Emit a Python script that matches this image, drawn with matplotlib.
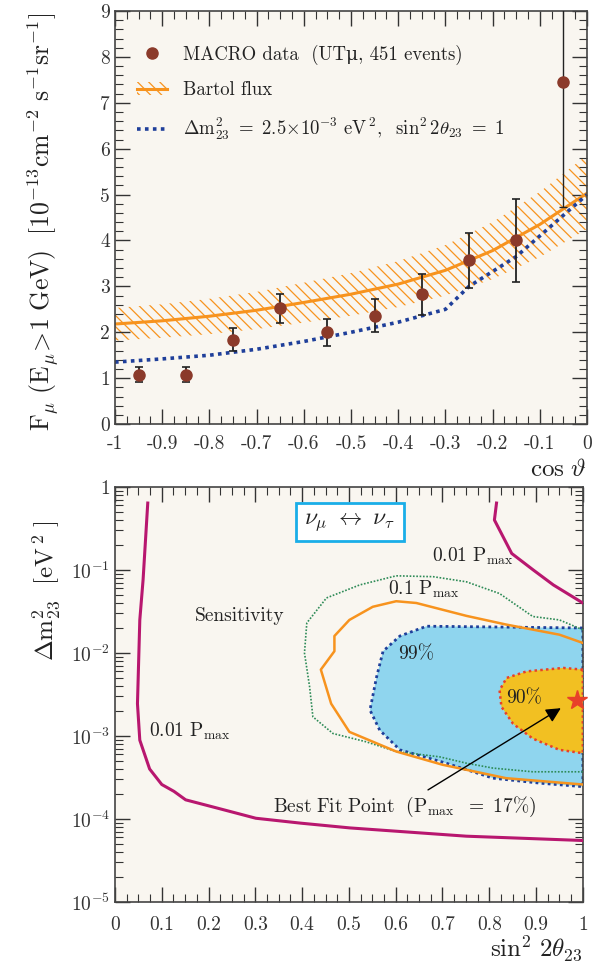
import numpy as np
import matplotlib
matplotlib.use("Agg")
import matplotlib.pyplot as plt
from matplotlib.lines import Line2D
from matplotlib.patches import Patch
from matplotlib.ticker import MultipleLocator, LogLocator, NullFormatter, FuncFormatter

plt.rcParams['font.family'] = ['cmr10', 'DejaVu Serif']
plt.rcParams['mathtext.fontset'] = 'cm'
plt.rcParams['axes.unicode_minus'] = False
plt.rcParams['axes.formatter.use_mathtext'] = True
plt.rcParams['hatch.linewidth'] = 0.9

# ---------------- data: top panel ----------------
cos_data = [-0.95, -0.85, -0.75, -0.65, -0.55, -0.45, -0.35, -0.25, -0.15, -0.05]
flux_data = [1.08, 1.08, 1.84, 2.52, 2.00, 2.36, 2.83, 3.57, 4.00, 7.45]
flux_err = [0.16, 0.17, 0.25, 0.32, 0.30, 0.36, 0.45, 0.60, 0.90, 2.72]

cos_model = [-1.0, -0.9, -0.8, -0.7, -0.6, -0.5, -0.4, -0.3, -0.2, -0.1, 0.0]
bartol = [2.18, 2.25, 2.35, 2.48, 2.65, 2.83, 3.05, 3.35, 3.78, 4.35, 5.03]
bartol_lo = [1.82, 1.88, 1.96, 2.07, 2.21, 2.36, 2.55, 2.80, 3.16, 3.64, 4.25]
bartol_hi = [2.53, 2.61, 2.73, 2.88, 3.08, 3.29, 3.55, 3.90, 4.40, 5.06, 5.86]
osc = [1.35, 1.42, 1.50, 1.63, 1.80, 2.00, 2.22, 2.50, 3.00, 3.65, 4.55, 5.00]
cos_osc = [-1.0, -0.9, -0.8, -0.7, -0.6, -0.5, -0.4, -0.3, -0.25, -0.15, -0.05, 0.0]

# ---------------- data: bottom panel ----------------
pmax_left_x = [0.070, 0.060, 0.053, 0.048, 0.053, 0.074, 0.100, 0.126, 0.151, 0.219, 0.301, 0.397, 0.502, 0.751, 1.0]
pmax_left_y = [0.64, 7.6e-2, 2.5e-2, 2.45e-3, 8.9e-4, 4.0e-4, 2.6e-4, 2.15e-4, 1.7e-4, 1.35e-4, 1.02e-4, 8.9e-5, 7.8e-5, 6.2e-5, 5.5e-5]
pmax_right_x = [0.8155, 0.811, 0.848, 0.894, 0.937, 1.0]
pmax_right_y = [0.64, 0.40, 0.158, 0.10, 0.066, 0.040]

sens_x = [1.0, 0.95, 0.893, 0.822, 0.751, 0.68, 0.601, 0.523, 0.452, 0.41, 0.405, 0.416, 0.423, 0.466, 0.537, 0.601, 0.694, 0.751, 0.808, 0.893, 1.0]
sens_y = [1.9e-2, 2.5e-2, 2.75e-2, 5.2e-2, 7.2e-2, 8.3e-2, 8.5e-2, 6.6e-2, 4.6e-2, 2.3e-2, 1.0e-2, 3.9e-3, 1.7e-3, 1.07e-3, 8.5e-4, 6.5e-4, 5.6e-4, 4.7e-4, 4.1e-4, 3.7e-4, 3.7e-4]

p01_x = [1.0, 0.95, 0.836, 0.751, 0.644, 0.601, 0.551, 0.501, 0.469, 0.469, 0.44, 0.462, 0.501, 0.601, 0.70, 0.836, 1.0]
p01_y = [1.32e-2, 1.66e-2, 2.2e-2, 2.8e-2, 4.0e-2, 4.2e-2, 3.6e-2, 2.5e-2, 1.6e-2, 1.05e-2, 6.3e-3, 2.45e-3, 1.12e-3, 6.5e-4, 4.5e-4, 3.1e-4, 2.6e-4]

c99_x = [1.0, 0.666, 0.609, 0.573, 0.559, 0.545, 0.566, 0.609, 0.708, 0.808, 0.908, 1.0]
c99_y = [2.0e-2, 2.1e-2, 1.6e-2, 1.05e-2, 5.1e-3, 2.05e-3, 1.17e-3, 6.8e-4, 4.7e-4, 3.1e-4, 2.7e-4, 2.45e-4]

c90_x = [1.0, 0.958, 0.88, 0.837, 0.822, 0.826, 0.851, 0.893, 0.95, 1.0]
c90_y = [6.3e-3, 6.6e-3, 6.0e-3, 5.0e-3, 3.55e-3, 2.25e-3, 1.4e-3, 9.3e-4, 6.8e-4, 6.2e-4]

best_fit_x = 0.988
best_fit_y = 2.7e-3

# ---------------- figure ----------------
fig = plt.figure(figsize=(5.99, 9.66), dpi=100)
bg = '#f9f6f0'
fig.patch.set_facecolor('white')
orange = '#f7931e'
brown = '#8b3a2a'
navy = '#1f3f9a'
tc = '#222222'

ax1 = fig.add_axes([0.192, 0.561, 0.788, 0.4276])
ax1.set_facecolor(bg)
ax1.fill_between(cos_model, bartol_lo, bartol_hi, facecolor='none', edgecolor=orange,
                 hatch='\\\\\\', linewidth=0)
ax1.plot(cos_model, bartol, color=orange, lw=2.2)
ax1.plot(cos_osc, osc, color=navy, lw=2.6, linestyle=(0, (1, 1.2)))
ax1.errorbar(cos_data[:-1], flux_data[:-1], yerr=flux_err[:-1], fmt='o', color=brown,
             ecolor=tc, elinewidth=1.3, capsize=3, capthick=1.2, markersize=8, zorder=5)
ax1.errorbar(cos_data[-1:], flux_data[-1:], yerr=flux_err[-1:], fmt='o', color=brown,
             ecolor=tc, elinewidth=1.0, capsize=3, capthick=1.0, markersize=8, zorder=5)
ax1.set_xlim(-1, 0)
ax1.set_ylim(0, 9)
ax1.xaxis.set_major_locator(MultipleLocator(0.1))
ax1.xaxis.set_minor_locator(MultipleLocator(0.025))
ax1.yaxis.set_major_locator(MultipleLocator(1))
ax1.yaxis.set_minor_locator(MultipleLocator(0.2))

def fmt_x(v, pos):
    if abs(v) < 1e-9:
        return '0'
    if abs(v + 1) < 1e-9:
        return '-1'
    return ('%.1f' % v)
ax1.xaxis.set_major_formatter(FuncFormatter(fmt_x))
ax1.yaxis.set_major_formatter(FuncFormatter(lambda v, p: '%d' % v))
ax1.tick_params(which='both', direction='in', top=True, right=True, labelsize=14, colors='#333333')
ax1.tick_params(which='major', length=11, width=1)
ax1.tick_params(which='minor', length=6, width=0.8)
ax1.tick_params(axis='x', pad=8)
for s in ax1.spines.values():
    s.set_color('#444444')
    s.set_linewidth(1.2)

ax1.set_ylabel(r'$\mathrm{F_{\mu}\ (E_{\mu}\!>\!1\ GeV)\ \ [10^{-13}cm^{-2}\ s^{-1}sr^{-1}]}$',
               fontsize=18.5, color=tc)
ax1.yaxis.set_label_coords(-0.115, 0.49)
ax1.set_xlabel(r'$\mathrm{cos}\ \vartheta$', fontsize=18, color=tc)
ax1.xaxis.set_label_coords(1.0, -0.085)
ax1.xaxis.label.set_horizontalalignment('right')

h1 = Line2D([], [], marker='o', color=brown, linestyle='none', markersize=8)
h2 = (Patch(facecolor='none', edgecolor=orange, hatch='\\\\\\', linewidth=0),
      Line2D([], [], color=orange, lw=2.2))
h3 = Line2D([], [], color=navy, lw=2.6, linestyle=(0, (1, 1.2)))
leg = ax1.legend([h1, h2, h3],
                 ['MACRO data  (UTμ, 451 events)', 'Bartol flux',
                  r'$\mathrm{\Delta m^2_{23}\ =\ 2.5{\times}10^{-3}\ eV^{\,2},\ \ sin^2\,2\theta_{23}\ =\ 1}$'],
                 loc='upper left', bbox_to_anchor=(0.01, 0.96), frameon=False, fontsize=13.5,
                 handlelength=1.6, handletextpad=0.9, labelspacing=0.9)
for t in leg.get_texts():
    t.set_color(tc)

# ---------------- bottom panel ----------------
ax2 = fig.add_axes([0.192, 0.0663, 0.781, 0.4296])
ax2.set_facecolor(bg)
ax2.set_yscale('log')
ax2.set_xlim(0, 1)
ax2.set_ylim(1e-5, 1)

ax2.fill(c99_x, c99_y, facecolor='#8fd5ee', edgecolor=navy, lw=2.0, linestyle=(0, (1, 1.2)), zorder=2)
ax2.fill(c90_x, c90_y, facecolor='#f2c022', edgecolor='#e8402a', lw=1.8, linestyle=(0, (1, 1.3)), zorder=3)
ax2.plot(sens_x, sens_y, color='#2e8b57', lw=1.2, linestyle=(0, (1, 1)), zorder=4)
ax2.plot(p01_x, p01_y, color=orange, lw=1.8, zorder=4)
magenta = '#b8176f'
ax2.plot(pmax_left_x, pmax_left_y, color=magenta, lw=2.2, zorder=4)
ax2.plot(pmax_right_x, pmax_right_y, color=magenta, lw=2.2, zorder=4)
ax2.plot([best_fit_x], [best_fit_y], marker='*', color='#e8402a', markersize=15, zorder=6, clip_on=False)
ax2.annotate('', xy=(0.958, 2.25e-3), xytext=(0.664, 2.15e-4),
             arrowprops=dict(arrowstyle='-|>', color='black', lw=1.0, mutation_scale=22), zorder=7)

ax2.text(0.678, 0.125, r'$\mathrm{0.01\ P_{max}}$', fontsize=14, color=tc, zorder=8)
ax2.text(0.584, 0.05, r'$\mathrm{0.1\ P_{max}}$', fontsize=14, color=tc, zorder=8)
ax2.text(0.605, 8.3e-3, '99%', fontsize=14, color=tc, zorder=8)
ax2.text(0.836, 2.5e-3, '90%', fontsize=14, color=tc, zorder=8)
ax2.text(0.171, 2.45e-2, 'Sensitivity', fontsize=14, color=tc, zorder=8)
ax2.text(0.073, 9.8e-4, r'$\mathrm{0.01\ P_{max}}$', fontsize=14, color=tc, zorder=8)
ax2.text(0.337, 1.23e-4, r'$\mathrm{Best\ Fit\ Point\ \ (P_{max}\ \ =\ 17\%)}$', fontsize=14, color=tc, zorder=8)
ax2.text(0.502, 0.38, r'$\nu_{\mu}\ \leftrightarrow\ \nu_{\tau}$', fontsize=17, color=tc,
         ha='center', va='center', zorder=8,
         bbox=dict(boxstyle='square,pad=0.35', facecolor='white', edgecolor='#1aaee8', linewidth=2))

ax2.xaxis.set_major_locator(MultipleLocator(0.1))
ax2.xaxis.set_minor_locator(MultipleLocator(0.025))
def fmt_x2(v, pos):
    if abs(v) < 1e-9:
        return '0'
    if abs(v - 1) < 1e-9:
        return '1'
    return '%.1f' % v
ax2.xaxis.set_major_formatter(FuncFormatter(fmt_x2))
ax2.yaxis.set_major_locator(LogLocator(base=10, numticks=10))
ax2.yaxis.set_minor_locator(LogLocator(base=10, subs=np.arange(2, 10), numticks=20))
ax2.yaxis.set_minor_formatter(NullFormatter())
def fmt_y2(v, pos):
    e = int(round(np.log10(v)))
    if e == 0:
        return '1'
    return r'$10^{%d}$' % e
ax2.yaxis.set_major_formatter(FuncFormatter(fmt_y2))
ax2.tick_params(which='both', direction='in', top=True, right=True, labelsize=14, colors='#333333')
ax2.tick_params(which='major', length=11, width=1)
ax2.tick_params(which='minor', length=6, width=0.8)
ax2.tick_params(axis='x', pad=10)
for s in ax2.spines.values():
    s.set_color('#444444')
    s.set_linewidth(1.2)
ax2.set_ylabel(r'$\mathrm{\Delta m^2_{23}\ \ [eV^{\,2}\ ]}$', fontsize=18, color=tc)
ax2.yaxis.set_label_coords(-0.113, 0.75)
ax2.set_xlabel(r'$\mathrm{sin^2\ 2\theta_{23}}$', fontsize=18, color=tc)
ax2.xaxis.set_label_coords(1.0, -0.077)
ax2.xaxis.label.set_horizontalalignment('right')

fig.savefig('out.png', dpi=100, facecolor='white')
